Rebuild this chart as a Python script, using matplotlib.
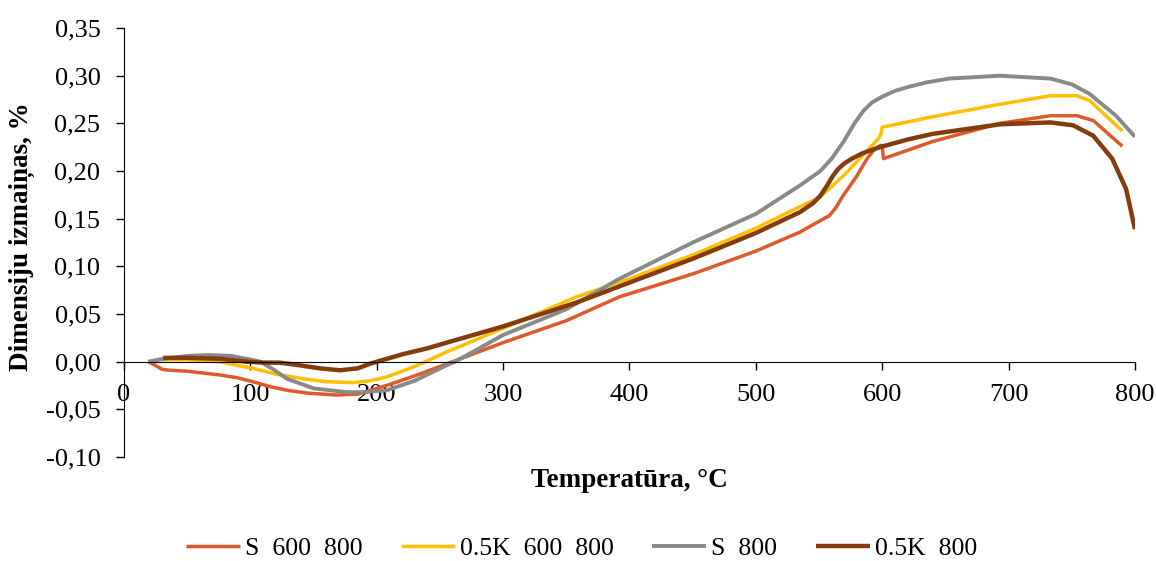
import matplotlib.pyplot as plt
from matplotlib.ticker import FuncFormatter

plt.rcParams['font.family'] = ['Liberation Serif', 'DejaVu Serif']

# S 600 800
s600_x = [19, 25, 30, 36, 50, 76, 90, 102, 115, 129, 145, 168, 185, 195, 210, 234, 260, 300, 350,
          392, 450, 500, 535, 551, 558, 563, 569, 580, 588, 594, 599, 600, 601, 640, 693, 733, 754,
          767, 790]
s600_y = [0.000, -0.004, -0.008, -0.009, -0.010, -0.014, -0.017, -0.021, -0.026, -0.030, -0.033, -0.035,
          -0.034, -0.030, -0.024, -0.013, 0.000, 0.020, 0.043, 0.068, 0.092, 0.116, 0.136, 0.148, 0.153,
          0.161, 0.174, 0.195, 0.213, 0.223, 0.227, 0.226, 0.213, 0.231, 0.250, 0.258, 0.258, 0.253,
          0.226]

# 0.5K 600 800
k600_x = [30, 50, 76, 90, 102, 120, 142, 160, 181, 195, 208, 230, 255, 300, 358, 400, 450, 500, 537,
          550, 561, 570, 580, 590, 597, 599, 600, 640, 693, 733, 754, 764, 790]
k600_y = [0.002, 0.002, 0.000, -0.004, -0.007, -0.013, -0.018, -0.021, -0.022, -0.020, -0.016, -0.005,
          0.010, 0.035, 0.068, 0.087, 0.112, 0.140, 0.164, 0.172, 0.185, 0.196, 0.210, 0.224, 0.234,
          0.239, 0.246, 0.257, 0.270, 0.279, 0.279, 0.274, 0.242]

# S 800
s800_x = [19, 31, 50, 68, 85, 97, 108, 118, 129, 150, 176, 190, 208, 230, 255, 262, 300, 350, 392,
          450, 500, 535, 551, 560, 570, 578, 585, 592, 600, 610, 620, 635, 653, 693, 733, 750, 764,
          785, 800]
s800_y = [0.000, 0.003, 0.006, 0.007, 0.006, 0.003, 0.000, -0.008, -0.018, -0.028, -0.032, -0.032,
          -0.030, -0.020, -0.004, 0.000, 0.028, 0.055, 0.087, 0.125, 0.155, 0.185, 0.200, 0.213, 0.232,
          0.250, 0.263, 0.272, 0.278, 0.284, 0.288, 0.293, 0.297, 0.300, 0.297, 0.291, 0.281, 0.258,
          0.236]

# 0.5K 800
k800_x = [31, 50, 76, 97, 110, 123, 140, 155, 171, 185, 195, 208, 221, 240, 258, 300, 358, 400, 450,
          500, 535, 545, 551, 556, 561, 565, 570, 576, 585, 598, 620, 640, 693, 733, 751, 767, 782,
          793, 800]
k800_y = [0.004, 0.004, 0.003, 0.000, -0.001, -0.001, -0.004, -0.007, -0.009, -0.007, -0.002, 0.003,
          0.008, 0.014, 0.021, 0.037, 0.062, 0.083, 0.108, 0.135, 0.157, 0.166, 0.174, 0.184, 0.195,
          0.202, 0.208, 0.213, 0.219, 0.225, 0.233, 0.239, 0.249, 0.251, 0.248, 0.237, 0.213, 0.181,
          0.139]

series = [
    ("S  600  800", s600_x, s600_y, "#E0592A", 2.5),
    ("0.5K  600  800", k600_x, k600_y, "#FFC000", 2.5),
    ("S  800", s800_x, s800_y, "#898989", 2.8),
    ("0.5K  800", k800_x, k800_y, "#843C0C", 3.2),
]

fig = plt.figure(figsize=(11.56, 5.61), dpi=100)
ax = fig.add_axes([0.1073, 0.1854, 0.8745, 0.7646])

for label, xs, ys, color, lw in series:
    ax.plot(xs, ys, color=color, lw=lw, label=label,
            solid_capstyle="butt", solid_joinstyle="round")

ax.set_xlim(0, 800)
ax.set_ylim(-0.10, 0.35)
ax.set_xticks(range(0, 801, 100))
ax.set_yticks([i * 0.05 for i in range(-2, 8)])
ax.yaxis.set_major_formatter(FuncFormatter(lambda v, p: f"{v:.2f}".replace(".", ",")))

ax.spines["top"].set_visible(False)
ax.spines["right"].set_visible(False)
ax.spines["bottom"].set_position(("data", 0))
ax.spines["left"].set_position(("data", 0))
ax.tick_params(axis="both", labelsize=19, length=6, width=1, direction="out")
ax.tick_params(axis="x", pad=10)
ax.tick_params(axis="y", pad=11)

ax.set_xlabel("Temperatūra, °C", fontsize=19.5, fontweight="bold")
ax.xaxis.label.set_verticalalignment("center")
ax.xaxis.set_label_coords(0.4995, -0.054)
ax.set_ylabel("Dimensiju izmaiņas, %", fontsize=19.5, fontweight="bold")
ax.yaxis.label.set_verticalalignment("center")
ax.yaxis.label.set_horizontalalignment("center")
ax.yaxis.set_label_coords(-0.1009, 0.513)

fig.legend(loc="center", bbox_to_anchor=(0.503, 0.022), ncol=4, frameon=False,
           fontsize=18.5, handlelength=2.1, columnspacing=1.5, handletextpad=0.2)

fig.savefig("out.png", dpi=100)
